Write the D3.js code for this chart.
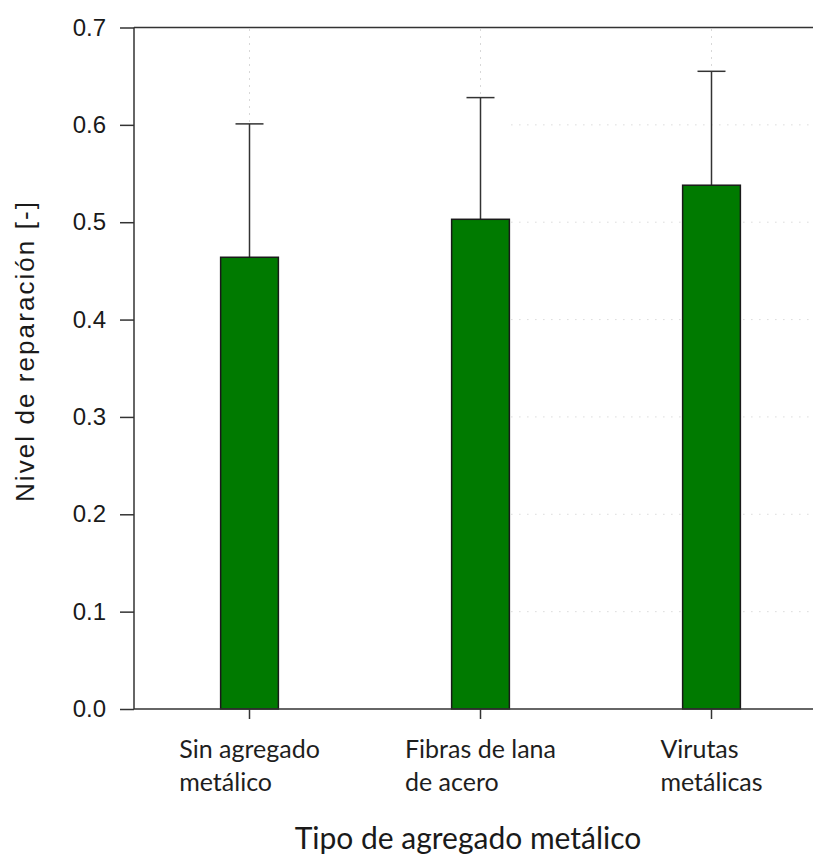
<!DOCTYPE html>
<html>
<head>
<meta charset="utf-8">
<script src="https://cdn.jsdelivr.net/npm/d3@7"></script>
<style>
  html, body { margin: 0; padding: 0; background: #fff; }
  svg { display: block; }
</style>
</head>
<body>
<svg id="chart" width="813" height="857"></svg>
<script>
// Categories (two-line labels) and measured repair level
const categories = ["Sin agregado metálico", "Fibras de lana de acero", "Virutas metálicas"];
const categoryLines = [["Sin agregado", "metálico"], ["Fibras de lana", "de acero"], ["Virutas", "metálicas"]];
const means = [0.464, 0.503, 0.538];
const upperErrors = [0.137, 0.125, 0.117];
const yTicks = [0.0, 0.1, 0.2, 0.3, 0.4, 0.5, 0.6, 0.7];
const gridTicks = [0.1, 0.2, 0.3, 0.4, 0.5, 0.6];

(function draw() {
  const W = 813;
  const plotLeft = 134, plotBottom = 709, plotTop = 27.5;
  const svg = d3.select("#chart");

  const x = d3.scaleBand().domain(categories).range([plotLeft, 827]).paddingInner(0.75).paddingOuter(0.375);
  const y = d3.scaleLinear().domain([0, 0.7]).range([plotBottom, plotTop]);
  const cx = d => x(d) + x.bandwidth() / 2;

  const ink = "#333";
  const arial = "'Liberation Sans', Arial, sans-serif";
  const calibri = "Lato, 'Open Sans', sans-serif";

  // faint dotted guides above each error bar
  svg.append("g").selectAll("line").data(categories).join("line")
    .attr("x1", cx).attr("x2", cx)
    .attr("y1", y(0.7) + 2)
    .attr("y2", (d, i) => y(means[i] + upperErrors[i]) - 2)
    .attr("stroke", "#b0b0b0").attr("stroke-width", 1).attr("stroke-dasharray", "1,6");

  // faint dotted horizontal grid on the right part of the plot
  const gridStart = x(categories[1]) + x.bandwidth() + 2;
  svg.append("g").selectAll("line").data(gridTicks).join("line")
    .attr("x1", gridStart).attr("x2", W)
    .attr("y1", d => y(d)).attr("y2", d => y(d))
    .attr("stroke", "#c8c8c8").attr("stroke-width", 1).attr("stroke-dasharray", "1,7");

  // error bars (upper only)
  const eb = svg.append("g").attr("stroke", ink).attr("stroke-width", 1.5);
  eb.selectAll(".stem").data(categories).join("line").attr("class", "stem")
    .attr("x1", cx).attr("x2", cx)
    .attr("y1", (d, i) => y(means[i])).attr("y2", (d, i) => y(means[i] + upperErrors[i]));
  eb.selectAll(".cap").data(categories).join("line").attr("class", "cap")
    .attr("x1", d => cx(d) - 14).attr("x2", d => cx(d) + 14)
    .attr("y1", (d, i) => y(means[i] + upperErrors[i])).attr("y2", (d, i) => y(means[i] + upperErrors[i]));

  // bars
  svg.append("g").selectAll("rect").data(categories).join("rect")
    .attr("x", d => x(d)).attr("width", x.bandwidth())
    .attr("y", (d, i) => y(means[i])).attr("height", (d, i) => y(0) - y(means[i]))
    .attr("fill", "#007a00").attr("stroke", "#1a1a1a").attr("stroke-width", 1.5);

  // frame: left axis, top border, bottom axis
  svg.append("line").attr("x1", plotLeft).attr("x2", plotLeft).attr("y1", plotTop).attr("y2", plotBottom)
    .attr("stroke", ink).attr("stroke-width", 1.5);
  svg.append("line").attr("x1", plotLeft).attr("x2", W).attr("y1", plotTop).attr("y2", plotTop)
    .attr("stroke", ink).attr("stroke-width", 1.5);
  svg.append("line").attr("x1", plotLeft).attr("x2", W).attr("y1", plotBottom).attr("y2", plotBottom)
    .attr("stroke", ink).attr("stroke-width", 1.5);

  // y axis
  const yAxis = svg.append("g").attr("transform", `translate(${plotLeft},0)`)
    .call(d3.axisLeft(y).tickValues(yTicks).tickFormat(d3.format(".1f")).tickSize(14).tickPadding(14));
  yAxis.select(".domain").remove();
  yAxis.selectAll(".tick line").attr("stroke", ink).attr("stroke-width", 1.5);
  yAxis.selectAll(".tick text").attr("font-family", arial).attr("font-size", 24).attr("fill", "#1a1a1a");

  // x axis ticks
  const xAxis = svg.append("g").attr("transform", `translate(0,${plotBottom})`)
    .call(d3.axisBottom(x).tickSize(10).tickFormat(""));
  xAxis.select(".domain").remove();
  xAxis.selectAll(".tick line").attr("stroke", ink).attr("stroke-width", 1.5);

  // category labels: left-aligned lines, block centred on the tick
  categoryLines.forEach((lines, i) => {
    const c = cx(categories[i]);
    const t = svg.append("text").attr("font-family", calibri).attr("font-size", 25).attr("fill", "#1e1e1e");
    lines.forEach((ln, j) => {
      t.append("tspan").attr("x", 0).attr("y", 758 + j * 33).text(ln);
    });
    const wMax = d3.max(t.selectAll("tspan").nodes(), n => n.getComputedTextLength());
    t.selectAll("tspan").attr("x", c - wMax / 2);
  });

  // axis titles
  svg.append("text").attr("x", 468).attr("y", 849).attr("text-anchor", "middle")
    .attr("font-family", calibri).attr("font-size", 30).attr("fill", "#1a1a1a")
    .text("Tipo de agregado metálico");

  svg.append("text").attr("transform", "translate(34,352) rotate(-90)").attr("text-anchor", "middle")
    .attr("font-family", arial).attr("font-size", 26).attr("fill", "#1a1a1a")
    .attr("textLength", 300).attr("lengthAdjust", "spacing")
    .text("Nivel de reparación [-]");
})();
</script>
</body>
</html>
